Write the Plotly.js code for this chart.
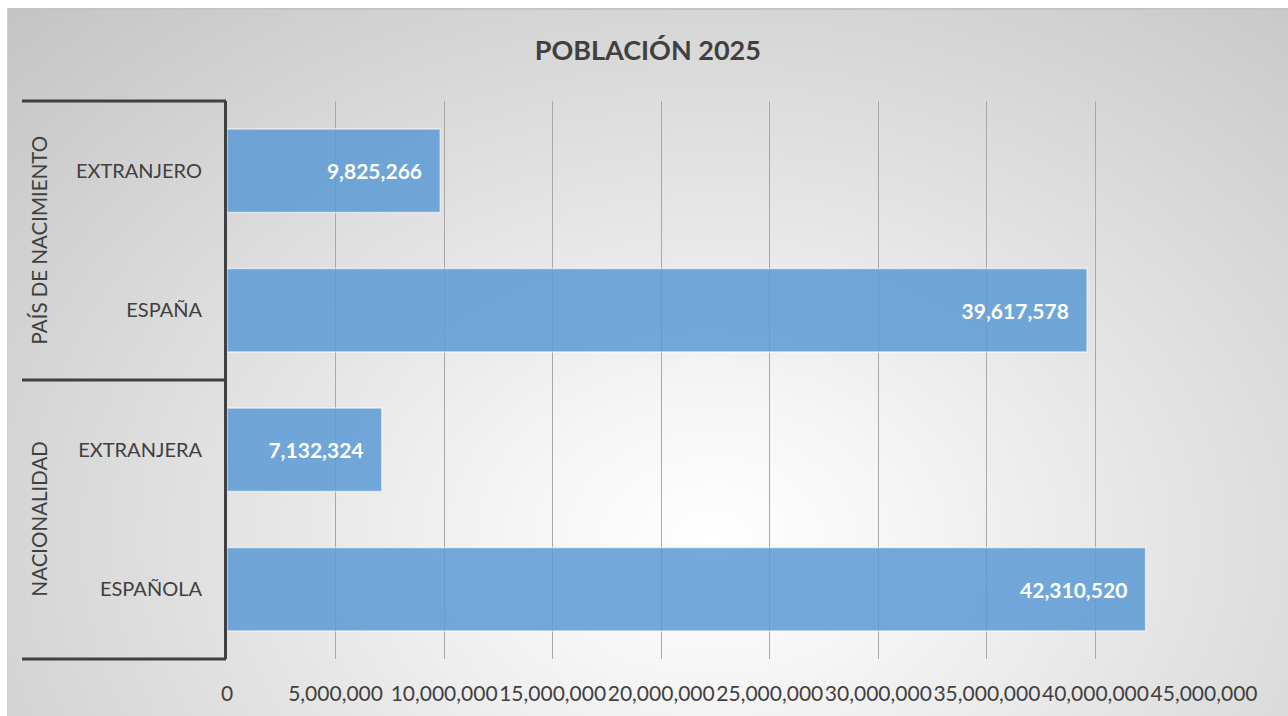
<!DOCTYPE html>
<html>
<head>
<meta charset="utf-8">
<script src="https://cdn.plot.ly/plotly-3.0.1.min.js"></script>
<style>
  html, body { margin: 0; padding: 0; background: #ffffff; }
  #bg {
    position: absolute; left: 7px; top: 8px; width: 1280px; height: 707px;
    border-top: 2px solid #c4c4c4; border-left: 1px solid #d0d0d0;
    background: radial-gradient(ellipse farthest-corner at 55% 75%, #ffffff 0%, #f6f6f6 18%, #e2e2e2 50%, #c4c4c4 100%);
  }
  #chart { position: absolute; left: 0; top: 0; width: 1288px; height: 716px; }
</style>
</head>
<body>
<div id="bg"></div>
<div id="chart"></div>
<script>
const categories = ["EXTRANJERO", "ESPAÑA", "EXTRANJERA", "ESPAÑOLA"];
const values = [9825266, 39617578, 7132324, 42310520];
const groups = ["PAÍS DE NACIMIENTO", "NACIONALIDAD"];
const tickValues = [0, 5000000, 10000000, 15000000, 20000000, 25000000, 30000000, 35000000, 40000000, 45000000];
const tickLabels = ["0", "5,000,000", "10,000,000", "15,000,000", "20,000,000", "25,000,000", "30,000,000", "35,000,000", "40,000,000", "45,000,000"];

const FONT = "Lato, 'Open Sans', sans-serif";
const W = 1288, L = 227, R = 84;
const plotW = W - L - R;
const px2paper = p => (p - L) / plotW;

const trace = {
  type: "bar",
  orientation: "h",
  x: values,
  y: categories,
  marker: { color: "#5b9bd5", opacity: 0.85, line: { color: "rgba(255,255,255,0.65)", width: 1.5 } },
  texttemplate: "%{x:,}\u00a0\u00a0\u00a0",
  textposition: "inside",
  insidetextanchor: "end",
  textangle: 0,
  textfont: { family: FONT, size: 21, color: "#ffffff", weight: "bold" },
  hoverinfo: "none"
};

const lineColor = "#404040";
const layout = {
  width: 1288, height: 716,
  margin: { l: L, r: R, t: 101, b: 57 },
  paper_bgcolor: "rgba(0,0,0,0)",
  plot_bgcolor: "rgba(0,0,0,0)",
  showlegend: false,
  bargap: 0.4,
  title: { text: "POBLACIÓN 2025", x: 0.503, xanchor: "center", y: 0.93, yanchor: "middle",
           font: { family: FONT, size: 27, color: "#404040", weight: "bold" } },
  xaxis: {
    range: [0, 45000000],
    tickvals: tickValues, ticktext: tickLabels, tickangle: 0,
    showgrid: true, gridcolor: "#a8a8a8", gridwidth: 1,
    zeroline: false, showline: false,
    ticks: "outside", ticklen: 16, tickcolor: "rgba(0,0,0,0)",
    tickfont: { family: FONT, size: 21, color: "#404040" },
    fixedrange: true
  },
  yaxis: {
    type: "category",
    categoryorder: "array", categoryarray: categories,
    autorange: "reversed",
    showline: true, linecolor: lineColor, linewidth: 3,
    showgrid: false, zeroline: false,
    ticks: "outside", ticklen: 18, tickcolor: "rgba(0,0,0,0)",
    tickfont: { family: FONT, size: 20, color: "#404040" },
    fixedrange: true
  },
  shapes: [0, 0.5, 1].map(yv => ({
    type: "line", xref: "paper", yref: "paper",
    x0: px2paper(22), x1: px2paper(226), y0: yv, y1: yv,
    line: { color: lineColor, width: 3 }
  })),
  annotations: groups.map((g, i) => ({
    text: g, xref: "paper", yref: "paper",
    x: px2paper(38), y: i === 0 ? 0.75 : 0.25,
    xanchor: "center", yanchor: "middle",
    textangle: -90, showarrow: false,
    font: { family: FONT, size: 20.5, color: "#404040" }
  }))
};

Plotly.newPlot("chart", [trace], layout, { displayModeBar: false, staticPlot: true });
</script>
</body>
</html>
